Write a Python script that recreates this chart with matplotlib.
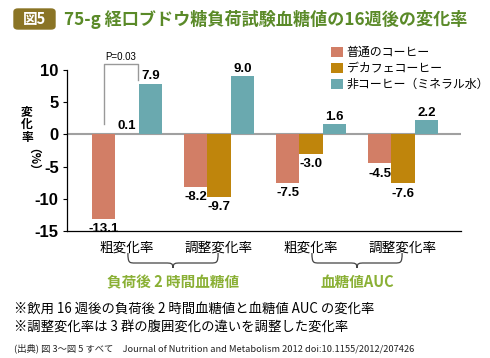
import numpy as np
import matplotlib
matplotlib.use("Agg")
from matplotlib import pyplot as plt
from matplotlib.path import Path
from matplotlib.patches import PathPatch, FancyBboxPatch
import matplotlib.transforms as mtransforms

plt.rcParams['font.family'] = ['Noto Sans CJK JP', 'DejaVu Sans']

# data
groups = ['粗変化率', '調整変化率', '粗変化率', '調整変化率']
series = ['普通のコーヒー', 'デカフェコーヒー', '非コーヒー（ミネラル水）']
regular = [-13.1, -8.2, -7.5, -4.5]
decaf = [0.1, -9.7, -3.0, -7.6]
water = [7.9, 9.0, 1.6, 2.2]
labels = [['-13.1', '-8.2', '-7.5', '-4.5'],
          ['0.1', '-9.7', '-3.0', '-7.6'],
          ['7.9', '9.0', '1.6', '2.2']]
colors = ['#D27E66', '#BF850C', '#6AA9AF']
yticks = [-15, -10, -5, 0, 5, 10]
outer = ['負荷後 2 時間血糖値', '血糖値AUC']

W, H = 490, 358
fig = plt.figure(figsize=(W / 100, H / 100), dpi=100)


def px(x, y):
    return x / W, 1 - y / H


ax = fig.add_axes([67 / W, (H - 231) / H, (461 - 67) / W, (231 - 70) / H])
num_font = ['Liberation Sans Narrow', 'Liberation Sans', 'DejaVu Sans']

x = np.arange(len(groups))
w = 0.255
for k, (vals, c) in enumerate(zip([regular, decaf, water], colors)):
    bars = ax.bar(x + (k - 1) * w, vals, w, color=c, label=series[k], zorder=3)
    for b, v, t in zip(bars, vals, labels[k]):
        cx = b.get_x() + b.get_width() / 2
        if v >= 0:
            ax.annotate(t, (cx, v), xytext=(0, 1), textcoords='offset points',
                        ha='center', va='bottom', fontsize=9.5, fontweight='bold',
                        family=num_font, annotation_clip=False)
        else:
            ax.annotate(t, (cx, v), xytext=(0, -3), textcoords='offset points',
                        ha='center', va='top', fontsize=9.5, fontweight='bold',
                        family=num_font, annotation_clip=False)

ax.axhline(0, color='#A0A0A0', lw=1.5, zorder=2)
ax.set_xlim(-0.652, 3.63)
ax.set_ylim(-15, 10)
ax.set_yticks(yticks)
ax.set_yticklabels([str(t) for t in yticks], family=num_font, fontsize=12, fontweight='bold')
ax.set_xticks(x)
ax.set_xticklabels(groups, fontsize=9.8)
ax.tick_params(axis='x', length=0, pad=7)
ax.tick_params(axis='y', length=3, width=0.8, pad=3)
for s in ['top', 'right']:
    ax.spines[s].set_visible(False)
for s in ['left', 'bottom']:
    ax.spines[s].set_linewidth(0.9)

# p-value bracket
bx0, bx1 = -w, 0.12
ax.plot([bx0, bx0, bx1, bx1], [1.55, 11.0, 11.0, 8.5], color='#999999', lw=1.0, clip_on=False)
ax.text((bx0 + bx1) / 2, 11.3, 'P=0.03', ha='center', va='bottom', fontsize=7,
        family=num_font, clip_on=False)

# legend
ax.legend(loc='upper left', bbox_to_anchor=px(331, 46), bbox_transform=fig.transFigure,
          frameon=False, fontsize=8.6, handlelength=1.0, handleheight=1.0,
          handletextpad=0.3, labelspacing=0.25, borderpad=0, borderaxespad=0)

# y label, stacked
for ch, yy in zip('変化率', [112, 124, 137]):
    fig.text(*px(27, yy), ch, ha='center', va='center', fontsize=8.5, fontweight='bold')
fig.text(*px(27, 165), '（%）', ha='center', va='center', fontsize=8.5, fontweight='bold',
         rotation=-90)

# braces below the tick labels
trans = mtransforms.blended_transform_factory(ax.transData, fig.transFigure)


def brace(xa, xb, y0, y1, y2):
    xm = (xa + xb) / 2
    d = 0.08
    verts = [(xa, y0), (xa, y1), (xa + d * 0.2, y1), (xa + d, y1),
             (xm - d, y1), (xm - d * 0.3, y1), (xm, y1), (xm, y2),
             (xm, y1), (xm + d * 0.3, y1), (xm + d, y1),
             (xb - d, y1), (xb - d * 0.2, y1), (xb, y1), (xb, y0)]
    codes = [Path.MOVETO, Path.CURVE4, Path.CURVE4, Path.CURVE4,
             Path.LINETO, Path.CURVE4, Path.CURVE4, Path.CURVE4,
             Path.CURVE4, Path.CURVE4, Path.CURVE4,
             Path.LINETO, Path.CURVE4, Path.CURVE4, Path.CURVE4]
    fig.patches.append(PathPatch(Path(verts, codes), transform=trans, fill=False,
                                 lw=0.9, color='#444444'))


for i in range(2):
    xa, xb = x[2 * i] + 0.01, x[2 * i + 1] - 0.01
    brace(xa, xb, 1 - 253 / H, 1 - 263 / H, 1 - 268 / H)
    ax.text((xa + xb) / 2, 1 - 282 / H, outer[i], transform=trans,
            ha='center', va='center', fontsize=10.5, fontweight='bold', color='#8AB035')

# title
fig.patches.append(FancyBboxPatch(px(14, 29), 41 / W, 20 / H,
                                  boxstyle='round,pad=0,rounding_size=0.008',
                                  transform=fig.transFigure, color='#8A7425'))
fig.text(*px(34.5, 19), '図5', ha='center', va='center', fontsize=10.5,
         fontweight='bold', color='white')
fig.text(*px(64, 19), '75-g 経口ブドウ糖負荷試験血糖値の16週後の変化率',
         ha='left', va='center', fontsize=12.3, fontweight='bold', color='#5A8A28')

# notes
fig.text(*px(14, 309), '※飲用 16 週後の負荷後 2 時間血糖値と血糖値 AUC の変化率',
         ha='left', va='center', fontsize=9.6)
fig.text(*px(14, 327), '※調整変化率は 3 群の腹囲変化の違いを調整した変化率',
         ha='left', va='center', fontsize=9.6)
fig.text(*px(14, 348), '(出典) 図 3～図 5 すべて　Journal of Nutrition and Metabolism 2012 doi:10.1155/2012/207426',
         ha='left', va='center', fontsize=6.7, color='#222222')

fig.savefig('out.png', dpi=100)
